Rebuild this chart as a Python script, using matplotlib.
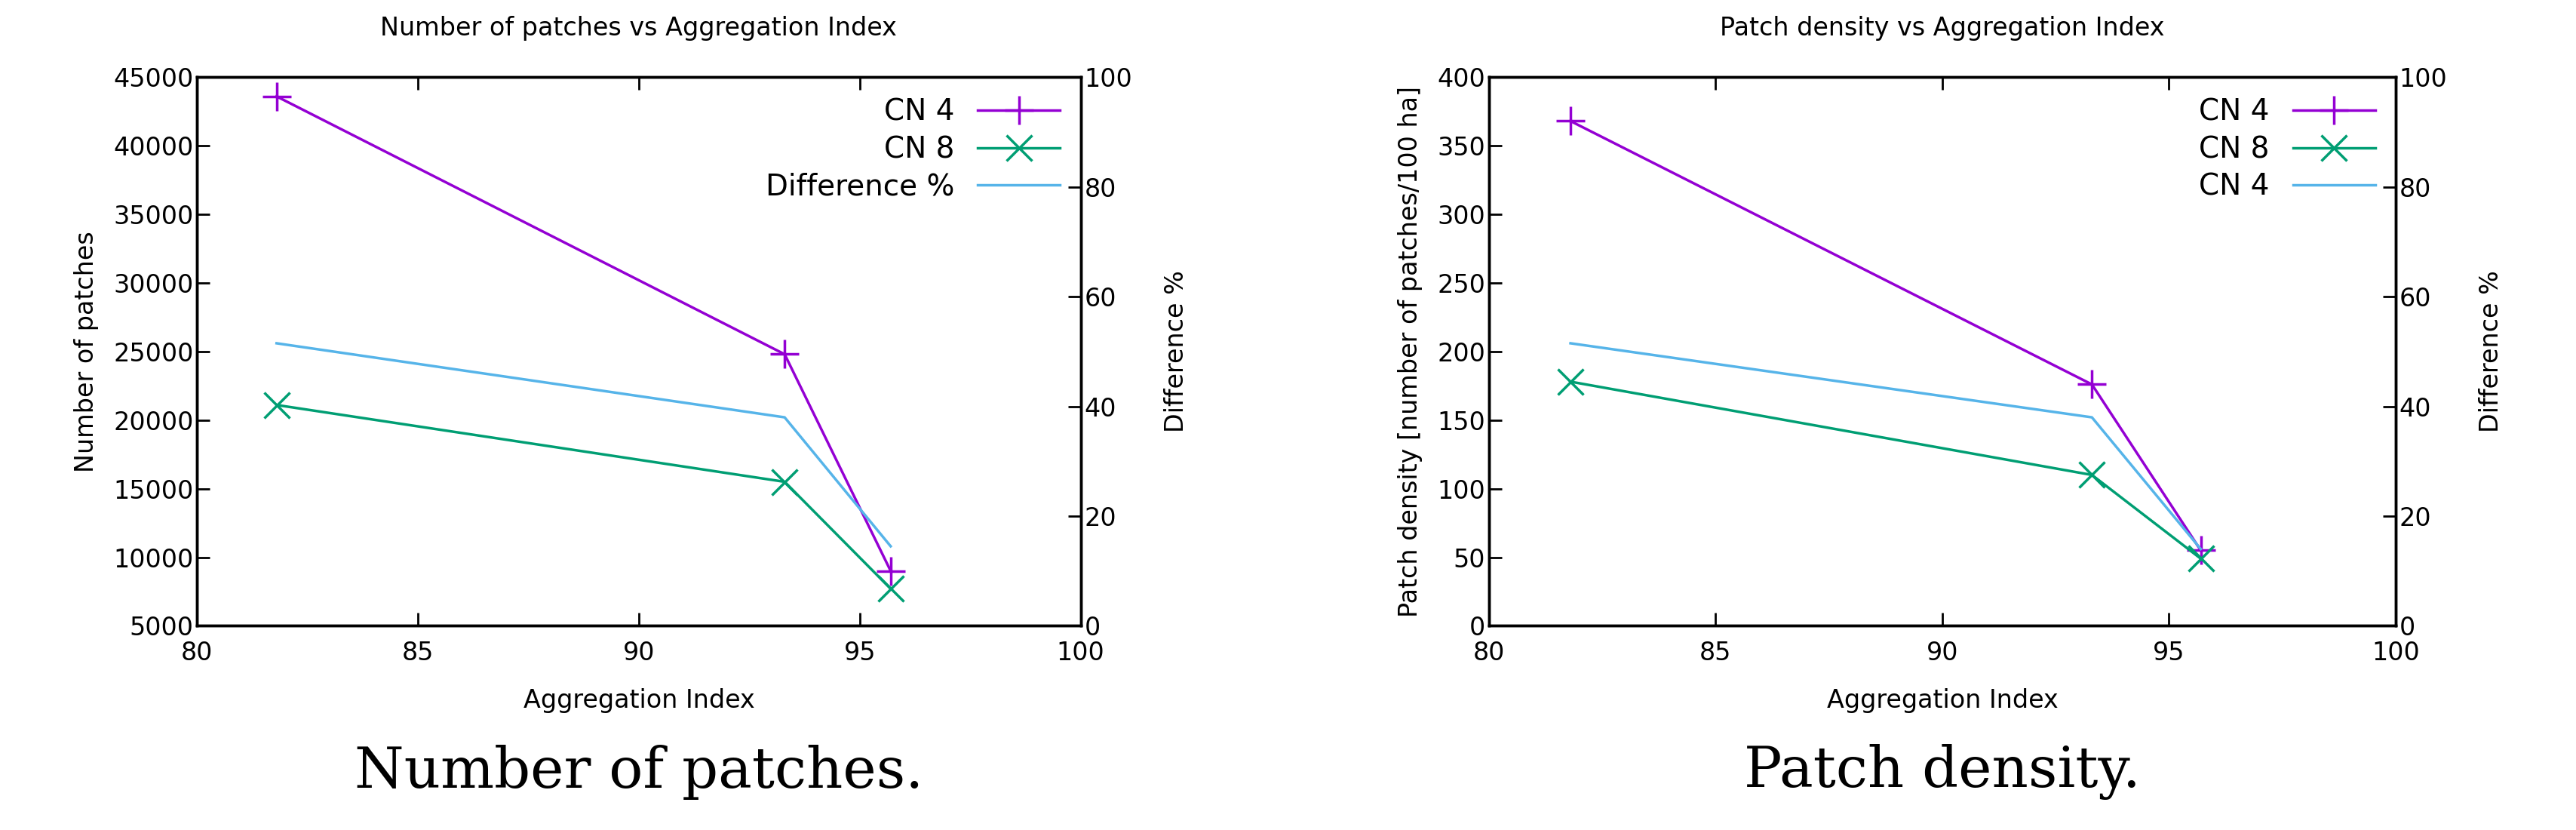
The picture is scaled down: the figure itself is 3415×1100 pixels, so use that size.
import matplotlib
matplotlib.use("Agg")
import matplotlib.pyplot as plt

agg_index = [81.8, 93.3, 95.7]
patches_cn4 = [43600, 24800, 9000]
patches_cn8 = [21100, 15500, 7700]
patches_diff = [51.5, 38.0, 14.5]
density_cn4 = [368, 176, 55]
density_cn8 = [178, 110, 49]
density_diff = [51.5, 38.0, 14.0]

PURPLE = "#9400d3"
GREEN = "#009e73"
BLUE = "#56b4e9"
FS = 24

fig = plt.figure(figsize=(34.15, 11), dpi=100)

def panel(rect, cn4, cn8, diff, ylim, yticks, ylabel, title, labels, caption):
    ax = fig.add_axes(rect)
    ax2 = ax.twinx()
    l1, = ax.plot(agg_index, cn4, color=PURPLE, lw=2.5, marker="+", ms=28, mew=2.5, label=labels[0])
    l2, = ax.plot(agg_index, cn8, color=GREEN, lw=2.5, marker="x", ms=24, mew=2.5, label=labels[1])
    l3, = ax2.plot(agg_index, diff, color=BLUE, lw=2.5, label=labels[2])
    ax.set_xlim(80, 100)
    ax.set_ylim(*ylim)
    ax.set_yticks(yticks)
    ax.set_xticks([80, 85, 90, 95, 100])
    ax2.set_ylim(0, 100)
    ax2.set_yticks([0, 20, 40, 60, 80, 100])
    for a in (ax, ax2):
        a.tick_params(labelsize=FS, direction="in", length=12, width=2, top=True)
        for s in a.spines.values():
            s.set_linewidth(2.5)
    ax.tick_params(axis="x", pad=14)
    ax.set_xlabel("Aggregation Index", fontsize=FS, labelpad=22)
    ax.set_ylabel(ylabel, fontsize=FS, labelpad=14)
    ax2.set_ylabel("Difference %", fontsize=FS, labelpad=30)
    ax.set_title(title, fontsize=FS, pad=40)
    leg = ax.legend(handles=[l1, l2, l3], loc="upper right", frameon=False,
                    fontsize=FS+4, markerfirst=False, handlelength=2.8, borderaxespad=0.3,
                    labelspacing=0.3)
    cx = rect[0] + rect[2] / 2
    fig.text(cx, 0.07, caption, ha="center", va="center", fontsize=54, family="DejaVu Serif")

panel([0.0765, 0.246, 0.343, 0.661], patches_cn4, patches_cn8, patches_diff,
      (5000, 45000), range(5000, 45001, 5000), "Number of patches",
      "Number of patches vs Aggregation Index", ["CN 4", "CN 8", "Difference %"],
      "Number of patches.")
panel([0.578, 0.246, 0.352, 0.661], density_cn4, density_cn8, density_diff,
      (0, 400), range(0, 401, 50), "Patch density [number of patches/100 ha]",
      "Patch density vs Aggregation Index", ["CN 4", "CN 8", "CN 4"],
      "Patch density.")

fig.savefig("out.png", dpi=100)
